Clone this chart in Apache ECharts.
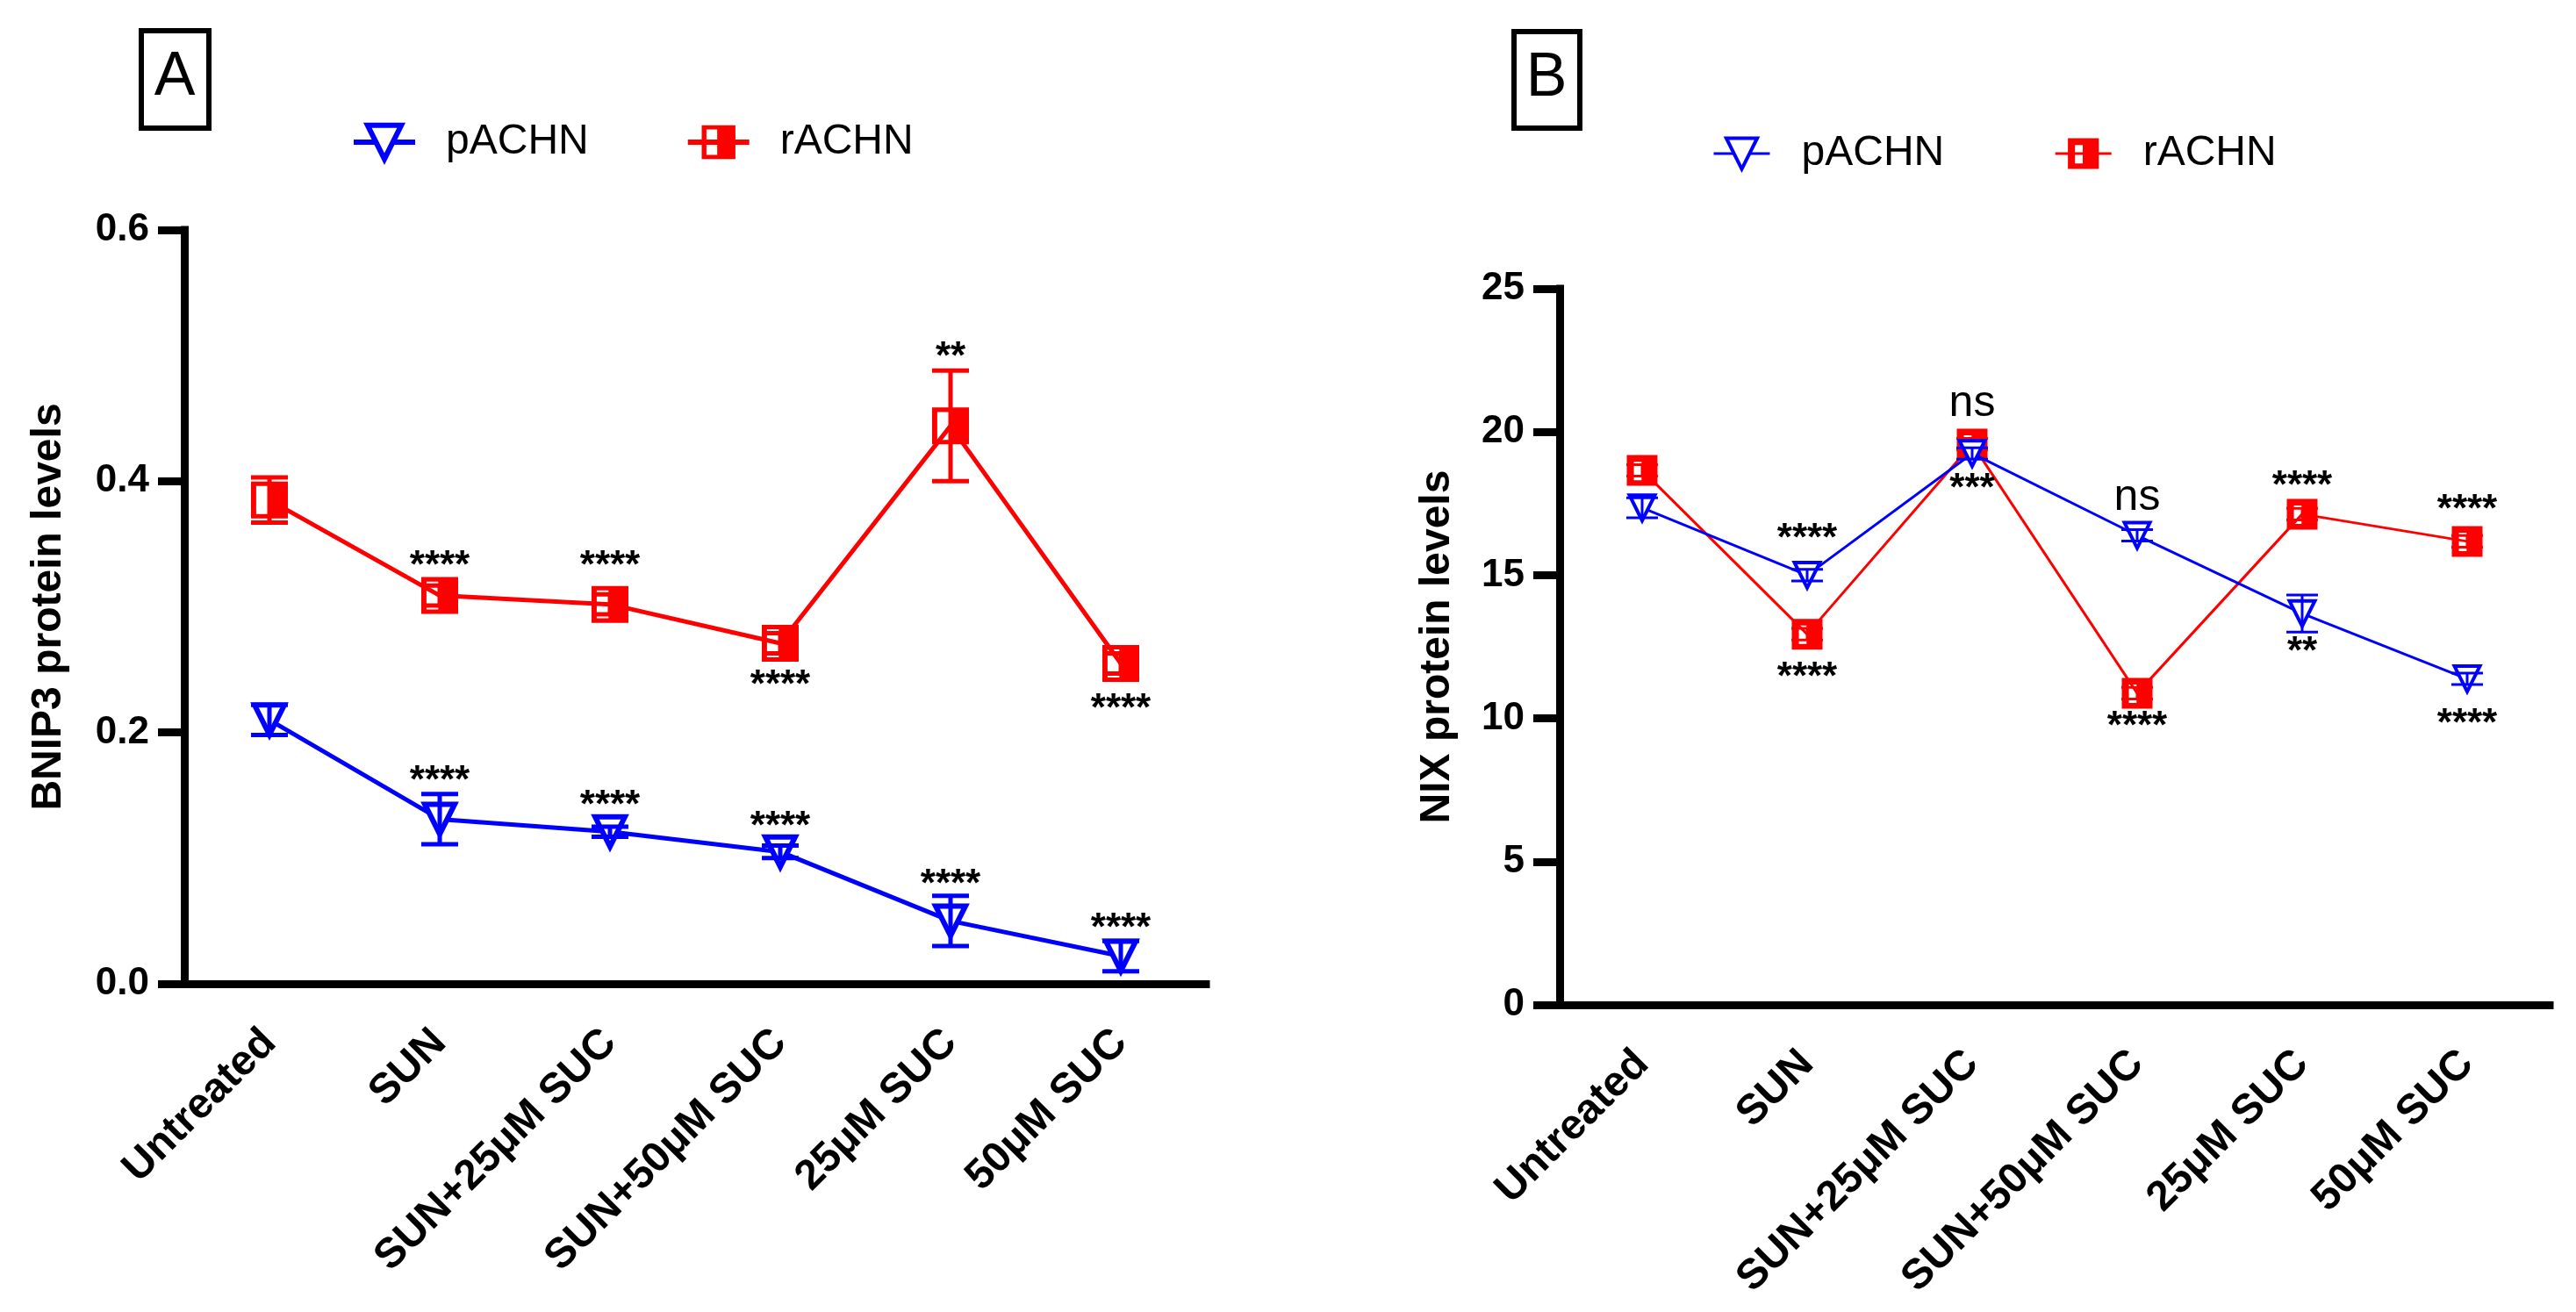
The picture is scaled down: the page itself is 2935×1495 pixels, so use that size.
<!DOCTYPE html>
<html><head><meta charset="utf-8">
<script src="https://cdn.jsdelivr.net/npm/echarts@6/dist/echarts.min.js"></script>
<style>html,body{margin:0;padding:0;background:#fff}#c{width:2935px;height:1495px}</style>
</head><body><div id="c"></div>
<script>
// ---------- data ----------
const categories = ['Untreated', 'SUN', 'SUN+25μM SUC', 'SUN+50μM SUC', '25μM SUC', '50μM SUC'];

// Panel A: BNIP3
const bnip3Ticks = [0, 0.2, 0.4, 0.6];
const bnip3_p_mean = [0.210, 0.131, 0.121, 0.105, 0.050, 0.022];
const bnip3_p_err  = [0.012, 0.020, 0.004, 0.005, 0.020, 0.012];
const bnip3_r_mean = [0.385, 0.309, 0.302, 0.271, 0.444, 0.255];
const bnip3_r_err  = [0.018, 0.008, 0.008, 0.008, 0.044, 0.008];
const bnip3_sig_cat  = [1, 2, 3, 4, 5, 1, 2, 3, 4, 5];
const bnip3_sig_y    = [0.339, 0.339, 0.244, 0.505, 0.225, 0.168, 0.148, 0.131, 0.085, 0.050];
const bnip3_sig_text = ['****', '****', '****', '**', '****', '****', '****', '****', '****', '****'];

// Panel B: NIX
const nixTicks = [0, 5, 10, 15, 20, 25];
const nix_p_mean = [17.35, 15.0, 19.25, 16.39, 13.66, 11.38];
const nix_p_err  = [0.35, 0.2, 0.2, 0.2, 0.65, 0.2];
const nix_r_mean = [18.66, 12.94, 19.58, 10.88, 17.13, 16.18];
const nix_r_err  = [0.2, 0.2, 0.2, 0.2, 0.2, 0.2];
const nix_sig_cat  = [1, 1, 2, 2, 3, 3, 4, 4, 5, 5];
const nix_sig_y    = [16.54, 11.70, 20.83, 18.29, 17.55, 9.99, 18.38, 12.59, 17.55, 10.08];
const nix_sig_text = ['****', '****', 'ns', '***', 'ns', '****', '****', '**', '****', '****'];

// ---------- styles ----------
const FONT = '"Liberation Sans", Arial, Helvetica, sans-serif';
const BLUE = '#0000ff', RED = '#ff0000';
const TRI = 'path://M0,0L10,0L5,10Z';
const SQ_A = 'path://M0,0H10V10H0Z M1.4,1.2V8.8H4.6V1.2Z';
const SQ_B = 'path://M0,0H10V10H0Z M2.3,2.2V8.2H4.8V2.2Z';

function errRender(color, lw, capW) {
  return function (params, api) {
    const x = api.value(0), m = api.value(1), e = api.value(2);
    const hi = api.coord([x, m + e]), lo = api.coord([x, m - e]);
    const s = { stroke: color, lineWidth: lw };
    return { type: 'group', children: [
      { type: 'line', shape: { x1: hi[0], y1: hi[1], x2: lo[0], y2: lo[1] }, style: s },
      { type: 'line', shape: { x1: hi[0] - capW / 2, y1: hi[1], x2: hi[0] + capW / 2, y2: hi[1] }, style: s },
      { type: 'line', shape: { x1: lo[0] - capW / 2, y1: lo[1], x2: lo[0] + capW / 2, y2: lo[1] }, style: s }
    ] };
  };
}
function sigRender(texts) {
  return function (params, api) {
    const p = api.coord([api.value(0), api.value(1)]);
    const t = texts[params.dataIndex];
    const star = t.indexOf('*') >= 0;
    const fs = star ? 44 : 50;
    return { type: 'text', x: p[0], y: p[1] + (star ? 0.225 * fs : -0.09 * fs),
      style: { text: t, fontSize: fs, fontWeight: star ? 'bold' : 'normal', fontFamily: FONT,
               fill: '#000', align: 'center', verticalAlign: 'middle' } };
  };
}
const zip3 = (a, b) => a.map((m, i) => [i, m, b[i]]);
const zip2 = (c, y) => c.map((ci, i) => [ci, y[i]]);

function xAxisCfg(gi) {
  return { type: 'category', gridIndex: gi, data: categories, boundaryGap: true,
    axisLine: { lineStyle: { color: '#000', width: 9, cap: 'square' } },
    axisTick: { alignWithLabel: true, length: 31, lineStyle: { color: '#000', width: 9 } },
    axisLabel: { interval: 0, rotate: 45, margin: 60, fontSize: 48, fontWeight: 'bold', color: '#000', fontFamily: FONT },
    splitLine: { show: false } };
}
function yAxisCfg(gi, ticks, name, gap, fmt) {
  return { type: 'value', gridIndex: gi, min: ticks[0], max: ticks[ticks.length - 1], interval: ticks[1] - ticks[0],
    axisLine: { show: true, lineStyle: { color: '#000', width: 9, cap: 'square' } },
    axisTick: { show: true, length: 30, lineStyle: { color: '#000', width: 9 } },
    splitLine: { show: false },
    axisLabel: { margin: 40, fontSize: 44, fontWeight: 'bold', color: '#000', fontFamily: FONT, formatter: fmt },
    name: name, nameLocation: 'middle', nameGap: gap,
    nameTextStyle: { fontSize: 48, fontWeight: 'bold', color: '#000', fontFamily: FONT } };
}

const option = {
  animation: false,
  backgroundColor: '#fff',
  textStyle: { fontFamily: FONT },
  grid: [
    { left: 210, top: 262, width: 1164, height: 859 },
    { left: 1777, top: 329, width: 1128, height: 816 }
  ],
  xAxis: [xAxisCfg(0), xAxisCfg(1)],
  yAxis: [
    yAxisCfg(0, bnip3Ticks, 'BNIP3 protein levels', 130, v => v.toFixed(1)),
    yAxisCfg(1, nixTicks, 'NIX protein levels', 115, v => String(v))
  ],
  legend: [
    { left: 400, top: 138, padding: 0, itemWidth: 70, itemHeight: 48, itemGap: 110, selectedMode: false,
      lineStyle: { width: 6 },
      textStyle: { fontSize: 48, color: '#000', fontFamily: FONT, padding: [0, 0, 0, 30] },
      data: [{ name: 'pACHN', itemStyle: { borderWidth: 6 } }, { name: 'rACHN', itemStyle: { borderWidth: 0 } }] },
    { left: 1951, top: 151, padding: 0, itemWidth: 64, itemHeight: 44, itemGap: 125, selectedMode: false,
      lineStyle: { width: 3 },
      formatter: n => n.slice(2),
      textStyle: { fontSize: 48, color: '#000', fontFamily: FONT, padding: [0, 0, 0, 31] },
      data: [{ name: 'B:pACHN', itemStyle: { borderWidth: 4 } }, { name: 'B:rACHN', itemStyle: { borderWidth: 0 } }] }
  ],
  graphic: [
    { type: 'rect', shape: { x: 161, y: 35, width: 77, height: 111 }, style: { fill: 'none', stroke: '#000', lineWidth: 6 } },
    { type: 'text', x: 199, y: 89, style: { text: 'A', fontSize: 70, fontFamily: FONT, fill: '#000', align: 'center', verticalAlign: 'middle' } },
    { type: 'rect', shape: { x: 1725, y: 36, width: 75, height: 110 }, style: { fill: 'none', stroke: '#000', lineWidth: 6 } },
    { type: 'text', x: 1762, y: 90, style: { text: 'B', fontSize: 70, fontFamily: FONT, fill: '#000', align: 'center', verticalAlign: 'middle' } }
  ],
  series: [
    // Panel A
    { type: 'custom', xAxisIndex: 0, yAxisIndex: 0, z: 2, renderItem: errRender(RED, 5, 42),
      encode: { x: 0, y: 1 }, data: zip3(bnip3_r_mean, bnip3_r_err), silent: true },
    { name: 'rACHN', type: 'line', xAxisIndex: 0, yAxisIndex: 0, z: 3, data: bnip3_r_mean,
      symbol: SQ_A, symbolSize: 42, itemStyle: { color: RED }, lineStyle: { color: RED, width: 5 }, emphasis: { disabled: true } },
    { name: 'pACHN', type: 'line', xAxisIndex: 0, yAxisIndex: 0, z: 4, data: bnip3_p_mean,
      symbol: TRI, symbolSize: 34, itemStyle: { color: '#fff', borderColor: BLUE, borderWidth: 6 },
      lineStyle: { color: BLUE, width: 5 }, emphasis: { disabled: true } },
    { type: 'custom', xAxisIndex: 0, yAxisIndex: 0, z: 5, renderItem: errRender(BLUE, 5, 42),
      encode: { x: 0, y: 1 }, data: zip3(bnip3_p_mean, bnip3_p_err), silent: true },
    { type: 'custom', xAxisIndex: 0, yAxisIndex: 0, z: 6, renderItem: sigRender(bnip3_sig_text),
      encode: { x: 0, y: 1 }, data: zip2(bnip3_sig_cat, bnip3_sig_y), silent: true, clip: false },
    // Panel B
    { type: 'custom', xAxisIndex: 1, yAxisIndex: 1, z: 2, renderItem: errRender(RED, 3, 36),
      encode: { x: 0, y: 1 }, data: zip3(nix_r_mean, nix_r_err), silent: true },
    { name: 'B:rACHN', type: 'line', xAxisIndex: 1, yAxisIndex: 1, z: 3, data: nix_r_mean,
      symbol: SQ_B, symbolSize: 35, itemStyle: { color: RED }, lineStyle: { color: RED, width: 3 }, emphasis: { disabled: true } },
    { name: 'B:pACHN', type: 'line', xAxisIndex: 1, yAxisIndex: 1, z: 4, data: nix_p_mean,
      symbol: TRI, symbolSize: 29, itemStyle: { color: '#fff', borderColor: BLUE, borderWidth: 4 },
      lineStyle: { color: BLUE, width: 3 }, emphasis: { disabled: true } },
    { type: 'custom', xAxisIndex: 1, yAxisIndex: 1, z: 5, renderItem: errRender(BLUE, 3, 36),
      encode: { x: 0, y: 1 }, data: zip3(nix_p_mean, nix_p_err), silent: true },
    { type: 'custom', xAxisIndex: 1, yAxisIndex: 1, z: 6, renderItem: sigRender(nix_sig_text),
      encode: { x: 0, y: 1 }, data: zip2(nix_sig_cat, nix_sig_y), silent: true, clip: false }
  ]
};
const chart = echarts.init(document.getElementById('c'), null, { renderer: 'canvas' });
chart.setOption(option);
</script>
</body></html>
